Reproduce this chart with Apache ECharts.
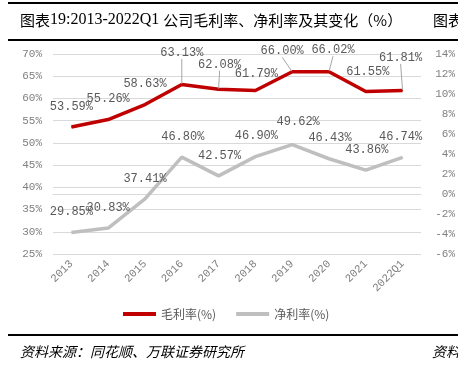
<!DOCTYPE html>
<html>
<head>
<meta charset="utf-8">
<script src="https://cdn.jsdelivr.net/npm/echarts@6/dist/echarts.min.js"></script>
<style>
  html, body { margin: 0; padding: 0; background: #fff; }
  #chart { width: 458px; height: 368px; }
</style>
</head>
<body>
<div id="chart"></div>
<script>
// 数据
const years = ['2013', '2014', '2015', '2016', '2017', '2018', '2019', '2020', '2021', '2022Q1'];
const grossMargin = [53.59, 55.26, 58.63, 63.13, 62.08, 61.79, 66.00, 66.02, 61.55, 61.81];
const netMargin = [29.85, 30.83, 37.41, 46.80, 42.57, 46.90, 49.62, 46.43, 43.86, 46.74];
const leftAxisRange = [25, 70, 5];
const rightAxisRange = [-6, 14, 2];

// 标签微调 (dx, dy) 及引导线
const labelNudge = [
    [[0,0],[0,0],[0,0],[0,-11],[1,-4],[1,4],[-10,0],[4,-1],[2,1],[-2,-12]],
    [[0,0],[0,0],[0,0],[1,0],[1,0],[1,0],[6,-2],[1,0],[1,0],[-2,0]]
];
const leaderIdx = [3, 4, 6, 7, 9];

const monoFont = "'Liberation Mono', 'DejaVu Sans Mono', monospace";
const cjkFont = "'Noto Sans CJK SC', sans-serif";
const serifFont = "'Liberation Serif', serif";

let myChart = echarts.init(document.getElementById('chart'));

let option = {
    animation: false,
    backgroundColor: '#fff',
    grid: { left: 53, right: 36, top: 54, bottom: 114 },
    legend: {
        top: 303,
        left: 118,
        icon: 'rect',
        itemWidth: 33,
        itemHeight: 4,
        itemGap: 20,
        textStyle: { color: '#595959', fontSize: 12, fontFamily: cjkFont },
        data: ['毛利率(%)', '净利率(%)']
    },
    xAxis: {
        type: 'category',
        data: years,
        axisTick: { show: false },
        axisLine: { lineStyle: { color: '#D9D9D9' } },
        axisLabel: {
            rotate: 45,
            margin: 8,
            color: '#808080',
            fontSize: 11,
            fontFamily: monoFont
        }
    },
    yAxis: [{
        type: 'value',
        min: leftAxisRange[0],
        max: leftAxisRange[1],
        interval: leftAxisRange[2],
        axisLine: { show: false },
        axisTick: { show: false },
        axisLabel: {
            formatter: '{value}%',
            margin: 11,
            color: '#808080',
            fontSize: 11,
            fontFamily: monoFont
        },
        splitLine: { lineStyle: { color: '#D9D9D9' } }
    }, {
        type: 'value',
        min: rightAxisRange[0],
        max: rightAxisRange[1],
        interval: rightAxisRange[2],
        axisLine: { show: false },
        axisTick: { show: false },
        splitLine: { show: false },
        axisLabel: {
            formatter: '{value}%',
            align: 'right',
            margin: 34,
            color: '#808080',
            fontSize: 11,
            fontFamily: monoFont
        }
    }],
    labelLayout: function (params) {
        let adj = labelNudge[params.seriesIndex][params.dataIndex];
        return { dx: adj[0], dy: adj[1] };
    },
    series: [{
        name: '毛利率(%)',
        type: 'line',
        symbol: 'circle',
        symbolSize: 1,
        lineStyle: { color: '#C00000', width: 3.5 },
        itemStyle: { color: '#C00000' },
        label: {
            show: true,
            position: 'top',
            distance: 14,
            color: '#595959',
            fontSize: 12,
            fontFamily: monoFont,
            formatter: p => p.value.toFixed(2) + '%'
        },
        labelLine: { lineStyle: { color: '#A6A6A6', width: 1 } },
        data: grossMargin.map((v, i) => ({
            value: v,
            labelLine: { show: leaderIdx.indexOf(i) >= 0 }
        }))
    }, {
        name: '净利率(%)',
        type: 'line',
        symbol: 'circle',
        symbolSize: 1,
        lineStyle: { color: '#BFBFBF', width: 3.5 },
        itemStyle: { color: '#BFBFBF' },
        label: {
            show: true,
            position: 'top',
            distance: 14,
            color: '#595959',
            fontSize: 12,
            fontFamily: monoFont,
            formatter: p => p.value.toFixed(2) + '%'
        },
        data: netMargin
    }],
    graphic: [
        { type: 'rect', shape: { x: 8, y: 2, width: 450, height: 2 }, style: { fill: '#000' } },
        { type: 'rect', shape: { x: 8, y: 39, width: 450, height: 2 }, style: { fill: '#000' } },
        {
            type: 'text', x: 20, y: 20,
            style: {
                text: '{a|图表}{b|19:2013-2022Q1 }{a|公司毛利率、净利率及其变化（%）}',
                verticalAlign: 'middle',
                fill: '#000',
                rich: {
                    a: { fontSize: 15, fontFamily: cjkFont, fill: '#000' },
                    b: { fontSize: 16, fontFamily: serifFont, fill: '#000' }
                }
            }
        },
        { type: 'text', x: 433, y: 20, style: { text: '图表', font: '15px ' + cjkFont, fill: '#000', verticalAlign: 'middle' } },
        { type: 'rect', shape: { x: 8, y: 334, width: 450, height: 2 }, style: { fill: '#000' } },
        { type: 'text', x: 20, y: 352, style: { text: '资料来源：同花顺、万联证券研究所', font: 'italic 14px ' + cjkFont, fill: '#000', verticalAlign: 'middle' } },
        { type: 'text', x: 432, y: 352, style: { text: '资料', font: 'italic 14px ' + cjkFont, fill: '#000', verticalAlign: 'middle' } }
    ]
};
myChart.setOption(option);
</script>
</body>
</html>
